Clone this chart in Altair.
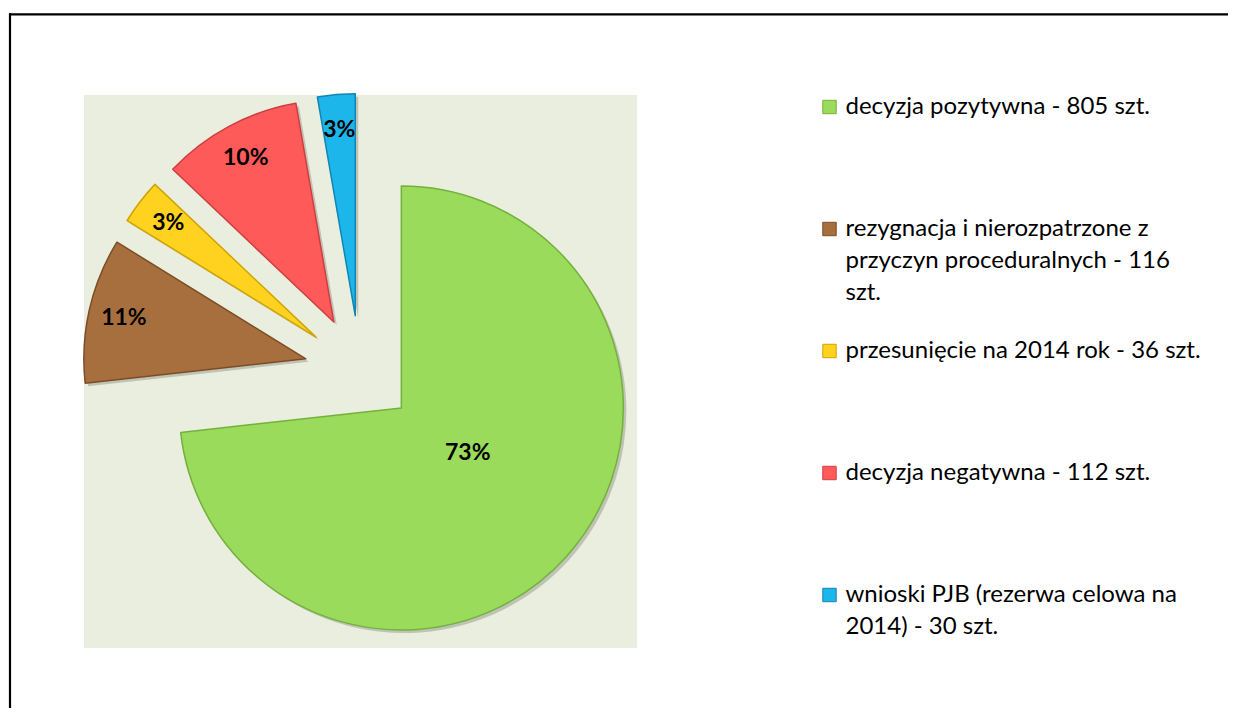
import math
import altair as alt
import pandas as pd

# ---------------- data ----------------
categories = [
    "decyzja pozytywna",
    "rezygnacja i nierozpatrzone z przyczyn proceduralnych",
    "przesunięcie na 2014 rok",
    "decyzja negatywna",
    "wnioski PJB (rezerwa celowa na 2014)",
]
counts = [805, 116, 36, 112, 30]
legend_labels = [
    "decyzja pozytywna - 805 szt.",
    "rezygnacja i nierozpatrzone z\nprzyczyn proceduralnych - 116\nszt.",
    "przesunięcie na 2014 rok - 36 szt.",
    "decyzja negatywna - 112 szt.",
    "wnioski PJB (rezerwa celowa na\n2014) - 30 szt.",
]
colors = ["#9BDB5C", "#A86F3E", "#FFD21F", "#FF5A5A", "#1DB6EA"]
edge_colors = ["#74B03C", "#7C4D25", "#D2A400", "#CF3E3E", "#1185B3"]

# ---------------- layout ----------------
W, H = 1220, 700
CX, CY = 352, 363          # pie centre (chart px)
R = 222                    # pie radius
EXPLODE = 55.5             # explosion distance of each slice
LEG_X, LEG_Y0, LEG_STEP = 821.5, 99, 122
FONT = "Lato"

total = sum(counts)
df = pd.DataFrame({
    "category": categories,
    "value": counts,
    "order": list(range(len(categories))),
    "legend": legend_labels,
})

color_scale = alt.Scale(domain=categories, range=colors)
edge_scale = alt.Scale(domain=categories, range=edge_colors)
theta_scale = alt.Scale(domain=[0, total], range=[0, 2 * math.pi])

base = (
    alt.Chart(df)
    .transform_window(cum="sum(value)", sort=[alt.SortField("order")], frame=[None, 0])
    .transform_joinaggregate(total="sum(value)")
    .transform_calculate(
        start="datum.cum - datum.value",
        mid="(datum.cum - datum.value / 2) / datum.total * 2 * PI",
        frac="datum.value / datum.total",
    )
    .transform_calculate(
        cx=f"{CX} + {EXPLODE} * sin(datum.mid)",
        cy=f"{CY} - {EXPLODE} * cos(datum.mid)",
        lr=f"datum.frac > 0.5 ? {0.36 * R} : {0.84 * R}",
        la="datum.frac > 0.5 ? datum.mid - 0.14 : datum.mid",
        pct="format(datum.frac, '.0%')",
    )
    .transform_calculate(
        sx="datum.cx + 3",
        sy="datum.cy + 3",
        lx="datum.cx + datum.lr * sin(datum.la)",
        ly="datum.cy - datum.lr * cos(datum.la)",
    )
)

one = pd.DataFrame({"a": [0]})
border_top = alt.Chart(one).mark_rule(color="black", strokeWidth=2.2).encode(
    x=alt.value(1), x2=alt.value(W), y=alt.value(6.3)
)
border_left = alt.Chart(one).mark_rule(color="black", strokeWidth=2.2).encode(
    x=alt.value(2), y=alt.value(5.2), y2=alt.value(H)
)
plot_bg = alt.Chart(one).mark_rect(color="#EAEEDF").encode(
    x=alt.value(76), x2=alt.value(629), y=alt.value(87), y2=alt.value(640)
)

shadow = base.mark_arc(radius=R, color="black", opacity=0.18).encode(
    x=alt.X("sx:Q", scale=None, axis=None),
    y=alt.Y("sy:Q", scale=None, axis=None),
    theta=alt.Theta("start:Q", scale=theta_scale),
    theta2="cum:Q",
)

slices = base.mark_arc(radius=R, strokeWidth=1.5, strokeJoin="round").encode(
    x=alt.X("cx:Q", scale=None, axis=None),
    y=alt.Y("cy:Q", scale=None, axis=None),
    theta=alt.Theta("start:Q", scale=theta_scale),
    theta2="cum:Q",
    color=alt.Color("category:N", scale=color_scale, legend=None),
    stroke=alt.Stroke("category:N", scale=edge_scale, legend=None),
)

labels = base.mark_text(font=FONT, fontWeight="bold", fontSize=23, color="black",
                        align="center", baseline="middle").encode(
    x=alt.X("lx:Q", scale=None, axis=None),
    y=alt.Y("ly:Q", scale=None, axis=None),
    text="pct:N",
)

leg_base = alt.Chart(df).transform_calculate(
    ly=f"{LEG_Y0} + datum.order * {LEG_STEP}",
    lx=f"{LEG_X}",
    tx=f"{LEG_X + 16}",
)
FS = 24
leg_sq = leg_base.mark_square(size=180, opacity=1, strokeWidth=1).encode(
    x=alt.X("lx:Q", scale=None, axis=None),
    y=alt.Y("ly:Q", scale=None, axis=None),
    color=alt.Color("category:N", scale=color_scale, legend=None),
    stroke=alt.Stroke("category:N", scale=edge_scale, legend=None),
)
leg_txt = leg_base.transform_calculate(ty=f"datum.ly - {0.49 * FS}").mark_text(
    font=FONT, fontSize=FS, color="black", align="left", baseline="top",
    lineBreak="\n", lineHeight=32,
).encode(
    x=alt.X("tx:Q", scale=None, axis=None),
    y=alt.Y("ty:Q", scale=None, axis=None),
    text="legend:N",
)

chart = alt.layer(border_top, border_left, plot_bg, shadow, slices, labels, leg_sq, leg_txt).properties(
    width=W, height=H, autosize=alt.AutoSizeParams(type="none"), padding=0,
    background="white",
).configure_view(stroke=None)

chart.save("out.html", embed_options={"renderer": "svg", "actions": False})
